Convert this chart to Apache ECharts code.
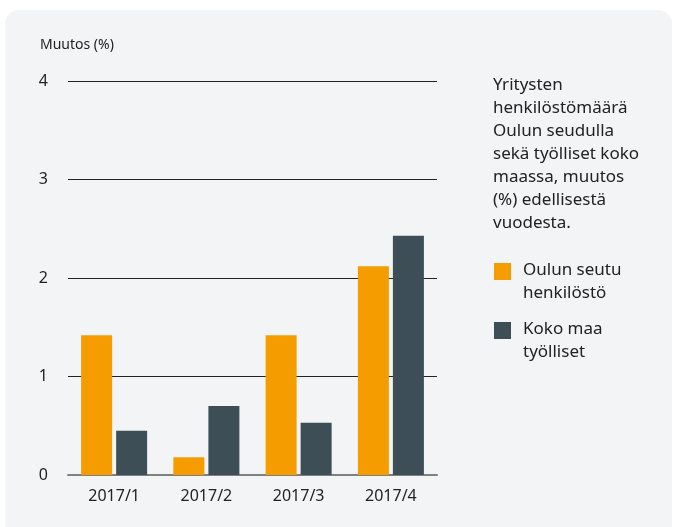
<!DOCTYPE html>
<html>
<head>
<meta charset="utf-8">
<script src="https://cdn.jsdelivr.net/npm/echarts@6/dist/echarts.min.js"></script>
<style>
  html, body { margin: 0; padding: 0; background: #fff; }
  #main { width: 676px; height: 527px; }
</style>
</head>
<body>
<div id="main"></div>
<script>
// data
const categories = ['2017/1', '2017/2', '2017/3', '2017/4'];
const seriesNames = ['Oulun seutu henkilöstö', 'Koko maa työlliset'];
const legendLines = [['Oulun seutu', 'henkilöstö'], ['Koko maa', 'työlliset']];
const oulunSeutu = [1.42, 0.18, 1.42, 2.12];
const kokoMaa = [0.45, 0.70, 0.53, 2.43];
const yTicks = [0, 1, 2, 3, 4];
const colors = ['#f49c00', '#3e4e56'];
const description = 'Yritysten\nhenkilöstömäärä\nOulun seudulla\nsekä työlliset koko\nmaassa, muutos\n(%) edellisestä\nvuodesta.';

const font = '"Noto Sans", sans-serif';
const chart = echarts.init(document.getElementById('main'));

// oma selite (ruutu + kaksi riviä tekstiä)
const legendGraphics = [];
legendLines.forEach((lines, i) => {
  const top = 263 + i * 59;
  legendGraphics.push({
    type: 'rect', left: 494, top: top,
    shape: { width: 17, height: 17 },
    style: { fill: colors[i] }
  });
  legendGraphics.push({
    type: 'text', left: 523, top: top - 4,
    style: { text: lines.join('\n'), fill: '#222', font: '17px ' + font, lineHeight: 23 }
  });
});

const option = {
  animation: false,
  textStyle: { fontFamily: font },
  graphic: [
    {
      type: 'rect', left: 5, top: 10, z: -10,
      shape: { width: 667, height: 540, r: 14 },
      style: { fill: '#f3f4f6' }
    },
    {
      type: 'text', left: 40, top: 38,
      style: { text: 'Muutos (%)', fill: '#222', font: '14px ' + font }
    },
    {
      type: 'text', left: 493, top: 74,
      style: { text: description, fill: '#222', font: '17px ' + font, lineHeight: 23 }
    }
  ].concat(legendGraphics),
  grid: { left: 68, right: 239, top: 81, bottom: 52 },
  xAxis: {
    type: 'category',
    data: categories,
    axisLine: { lineStyle: { color: '#808080', width: 2 } },
    axisTick: { show: false },
    axisLabel: { color: '#222', fontSize: 16, margin: 13 }
  },
  yAxis: {
    type: 'value',
    min: yTicks[0],
    max: yTicks[yTicks.length - 1],
    interval: 1,
    axisLine: { show: false },
    axisTick: { show: false },
    axisLabel: { color: '#222', fontSize: 16, margin: 20 },
    splitLine: { lineStyle: { color: '#222', width: 1 } }
  },
  series: [
    {
      name: seriesNames[0], type: 'bar', data: oulunSeutu,
      barWidth: 31, barGap: '13%',
      itemStyle: { color: colors[0] }
    },
    {
      name: seriesNames[1], type: 'bar', data: kokoMaa,
      barWidth: 31, barGap: '13%',
      itemStyle: { color: colors[1] }
    }
  ]
};

chart.setOption(option);
</script>
</body>
</html>
